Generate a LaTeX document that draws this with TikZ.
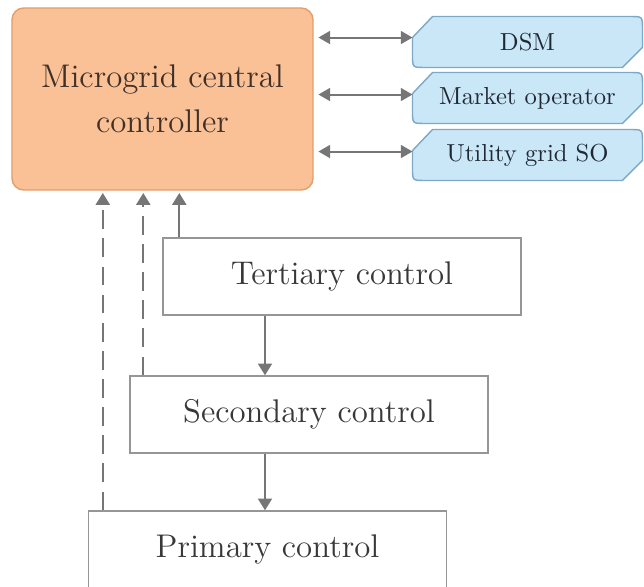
\documentclass[tikz,border=0pt]{standalone}
\usepackage{amsmath}
\usetikzlibrary{positioning,calc,arrows.meta,backgrounds}
\definecolor{mccfill}{RGB}{250,193,150}
\definecolor{mccborder}{RGB}{225,158,110}
\definecolor{tagfill}{RGB}{202,231,247}
\definecolor{tagborder}{RGB}{125,168,198}
\definecolor{arrowgrey}{RGB}{118,118,118}
\definecolor{boxborder}{RGB}{150,150,150}
\tikzset{
  ctrlbox/.style={draw=mccborder, fill=mccfill, line width=0.6pt, rounded corners=5pt,
    minimum width=4.515cm, minimum height=2.73cm, align=center,
    text={rgb,255:red,64;green,48;blue,40}, font=\fontsize{14}{19}\selectfont},
  levelbox/.style={draw=boxborder, fill=white, line width=0.6pt,
    minimum width=5.37cm, minimum height=1.155cm, align=center,
    text=black!78, font=\fontsize{14}{17}\selectfont},
  tagnode/.style={minimum width=3.435cm, minimum height=0.75cm, inner sep=0pt,
    text={rgb,255:red,32;green,40;blue,52}, font=\fontsize{10.5}{12}\selectfont},
  tagoutline/.style={draw=tagborder, fill=tagfill, line width=0.6pt},
  biarrow/.style={draw=arrowgrey, fill=arrowgrey, line width=0.85pt, {Triangle[length=5pt, width=5.5pt]}-{Triangle[length=5pt, width=5.5pt]}},
  uparrow/.style={draw=arrowgrey, line width=0.75pt, -{Triangle[length=5pt, width=6pt]}},
  dasharrow/.style={uparrow, dash pattern=on 8pt off 4pt},
}
% outline of a tag (cut top-left and bottom-right corners)
\newcommand{\tagshape}[1]{%
  \path[tagoutline] ($(#1.north west)+(0,21)$) -- ($(#1.north west)+(20,0)$)
    -- ($(#1.north east)+(-12,0)$) .. controls (#1.north east) .. ($(#1.north east)+(0,12)$)
    -- ($(#1.south east)+(0,-20)$) -- ($(#1.south east)+(-20,0)$)
    -- ($(#1.south west)+(12,0)$) .. controls (#1.south west) .. ($(#1.south west)+(0,-12)$)
    -- cycle;}

\begin{document}
\begin{tikzpicture}[x=0.015cm, y=-0.015cm]
	\useasboundingbox (0,0) rectangle (644,587);
	\clip (0,0) rectangle (644,587);

	% controller and outer parties
	\node[ctrlbox] (mcc) at (162.5,99) {Microgrid central\\controller};
	\node[tagnode] (dsm)  at (527.5,42)  {DSM};
	\node[tagnode] (mo)   at (527.5,98)  {Market operator};
	\node[tagnode] (ugso) at (527.5,155) {Utility grid SO};
	\begin{scope}[on background layer]
		\tagshape{dsm}
		\tagshape{mo}
		\tagshape{ugso}
	\end{scope}
	\coordinate (dsm-in)  at ($(dsm.north west)+(0,21)$);
	\coordinate (mo-in)   at ($(mo.north west)+(0,22)$);
	\coordinate (ugso-in) at ($(ugso.north west)+(0,22)$);

	\draw[biarrow, shorten <=2pt] (dsm-in -| mcc.east)  -- (dsm-in);
	\draw[biarrow, shorten <=2pt] (mo-in -| mcc.east)   -- (mo-in);
	\draw[biarrow, shorten <=2pt] (ugso-in -| mcc.east) -- (ugso-in);

	% control levels
	\node[levelbox] (ter) at (342,276.5) {Tertiary control};
	\node[levelbox] (sec) at (309,414.5) {Secondary control};
	\node[levelbox] (pri) at (267.5,549.5) {Primary control};

	\coordinate (down) at (265,0);
	\draw[uparrow] (ter.south -| down) -- (sec.north -| down);
	\draw[uparrow] (sec.south -| down) -- (pri.north -| down);

	\draw[uparrow, shorten >=1pt]   ([xshift=0.255cm]ter.north west) -- ([xshift=0.255cm]ter.north west |- mcc.south);
	\draw[dasharrow, shorten >=1pt] ([xshift=0.21cm]sec.north west)  -- ([xshift=0.21cm]sec.north west |- mcc.south);
	\draw[dasharrow, shorten >=1pt] ([xshift=0.225cm]pri.north west) -- ([xshift=0.225cm]pri.north west |- mcc.south);
\end{tikzpicture}
\end{document}
